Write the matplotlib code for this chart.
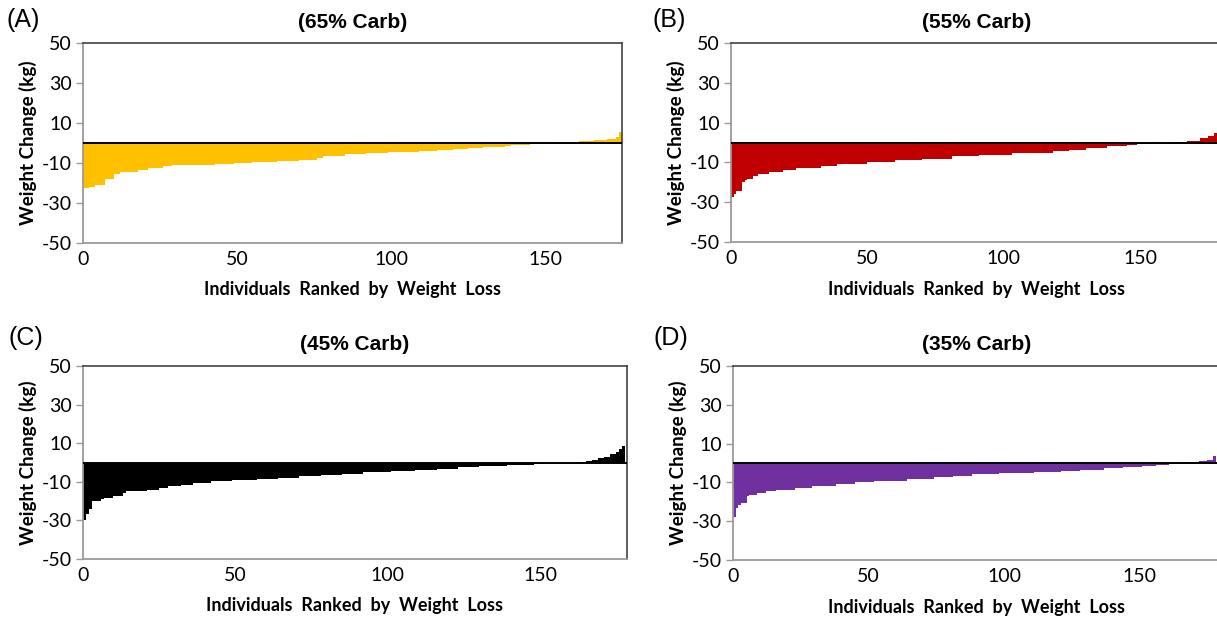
import matplotlib
matplotlib.use("Agg")
import matplotlib.pyplot as plt
import numpy as np

plt.rcParams["axes.unicode_minus"] = False

# ranked weight change per individual (kg), stored as run values + run lengths
carb65_vals = [-22.5, -22.3, -22.2, -22.0, -20.8, -17.8, -15.5, -14.3, -13.3, -12.5,
               -11.7, -11.2, -10.8, -10.3, -10.0, -9.6, -9.0, -8.3, -7.5, -6.3,
               -5.5, -5.0, -4.5, -3.8, -3.3, -2.8, -2.5, -2.1, -1.5, -1.1,
               -0.7, 0.5, 1.0, 1.4, 2.0, 3.0, 5.5]
carb65_runs = [1, 1, 1, 1, 3, 3, 2, 6, 3, 5,
               3, 7, 7, 6, 6, 8, 7, 6, 2, 7,
               7, 7, 10, 6, 5, 5, 5, 7, 2, 6,
               7, 9, 5, 4, 3, 1, 1]

carb55_vals = [-27.5, -26.0, -24.6, -19.8, -19.0, -18.3, -17.0, -15.7, -14.6, -13.7,
               -12.9, -11.7, -10.7, -9.9, -9.0, -8.2, -7.0, -6.2, -5.3, -4.5,
               -3.7, -2.8, -2.0, -1.5, -0.8, -0.3, 0.5, 1.0, 2.2, 3.3, 4.7]
carb55_runs = [1, 1, 2, 1, 1, 2, 2, 4, 5, 5,
               9, 6, 11, 10, 10, 11, 10, 12, 15, 6,
               6, 8, 7, 4, 6, 7, 5, 5, 3, 2, 1]

carb45_vals = [-30.0, -26.5, -24.0, -19.8, -18.8, -18.3, -17.4, -16.0, -14.8, -14.3,
               -13.0, -12.2, -11.5, -10.4, -9.7, -9.0, -8.4, -7.8, -7.1, -6.5,
               -5.8, -5.1, -4.6, -3.8, -3.2, -2.5, -1.7, -1.2, -0.9, -0.3,
               0.5, 0.9, 1.4, 2.3, 3.1, 4.3, 5.2, 6.8, 8.6]
carb45_runs = [1, 1, 1, 3, 1, 3, 3, 1, 7, 4,
               3, 4, 4, 6, 7, 8, 7, 7, 7, 7,
               7, 9, 8, 7, 7, 7, 9, 9, 3, 11,
               3, 2, 2, 2, 2, 2, 1, 1, 1]

carb35_vals = [-27.9, -23.2, -21.5, -20.6, -17.1, -16.3, -15.4, -14.5, -13.7, -12.8,
               -11.6, -10.6, -10.0, -9.3, -8.1, -7.1, -6.5, -5.8, -5.3, -4.7,
               -4.0, -3.5, -2.8, -2.1, -1.4, -0.9, -0.3, 0.35, 0.9, 1.7, 3.8]
carb35_runs = [1, 1, 1, 2, 1, 3, 3, 4, 7, 6,
               9, 7, 7, 12, 10, 7, 7, 10, 13, 10,
               7, 9, 7, 7, 5, 5, 4, 7, 3, 2, 1]

W, H = 1217, 621

panels = [
    # letter, title, vals, runs, color, (left, top, right, bottom) px, xmax, letter pos px
    ("(A)", "(65% Carb)", carb65_vals, carb65_runs, "#FFC000", (83, 43, 622, 243), 175, (23, 20)),
    ("(B)", "(55% Carb)", carb55_vals, carb55_runs, "#C00000", (731, 43, 1222, 242), 180, (669, 20)),
    ("(C)", "(45% Carb)", carb45_vals, carb45_runs, "#000000", (83, 366, 627, 559), 178.5, (26, 338)),
    ("(D)", "(35% Carb)", carb35_vals, carb35_runs, "#7030A0", (733, 366, 1221, 560), 180, (671, 338)),
]

fig = plt.figure(figsize=(W / 100, H / 100), dpi=100)
fig.patch.set_facecolor("white")

for letter, title, vals, runs, color, box, xmax, lpos in panels:
    l, t, r, b = box
    ax = fig.add_axes([l / W, 1 - b / H, (r - l) / W, (b - t) / H])
    y = np.repeat(vals, runs)
    x = np.arange(len(y))
    ax.bar(x, y, width=1.0, align="edge", color=color, linewidth=0, antialiased=False)
    ax.axhline(0, color="black", lw=1.4, zorder=3)

    ax.set_xlim(0, xmax)
    ax.set_ylim(-50, 50)
    ax.set_yticks([-50, -30, -10, 10, 30, 50])
    ax.set_xticks([0, 50, 100, 150])
    ax.tick_params(axis="y", length=5, width=1, color="#999999", labelsize=14, pad=3)
    ax.tick_params(axis="x", length=0, labelsize=14, pad=6)
    for lab in ax.get_xticklabels() + ax.get_yticklabels():
        lab.set_fontfamily("Lato")

    for side in ["left", "bottom"]:
        ax.spines[side].set_color("#9a9a9a")
        ax.spines[side].set_linewidth(1.3)
    for side in ["top", "right"]:
        ax.spines[side].set_color("#333333")
        ax.spines[side].set_linewidth(1.1)

    wpx, hpx = r - l, b - t
    ax.set_ylabel("Weight Change (kg)", fontsize=13.5, fontweight="bold", family="Lato")
    ax.yaxis.set_label_coords(-55 / wpx, 0.5)
    ax.set_xlabel("Individuals  Ranked  by  Weight  Loss", fontsize=13,
                  fontweight="bold", family="Lato")
    ax.xaxis.set_label_coords(0.5, -47 / hpx)
    ax.xaxis.label.set_va("center")
    ax.yaxis.label.set_va("center")

    ax.text(0.5, 1 + 21 / hpx, title, transform=ax.transAxes, ha="center", va="center",
            fontsize=15, fontweight="bold", family="Liberation Sans")
    fig.text(lpos[0] / W, 1 - lpos[1] / H, letter, ha="center", va="center",
             fontsize=18, family="Liberation Sans")

fig.savefig("out.png", dpi=100)
